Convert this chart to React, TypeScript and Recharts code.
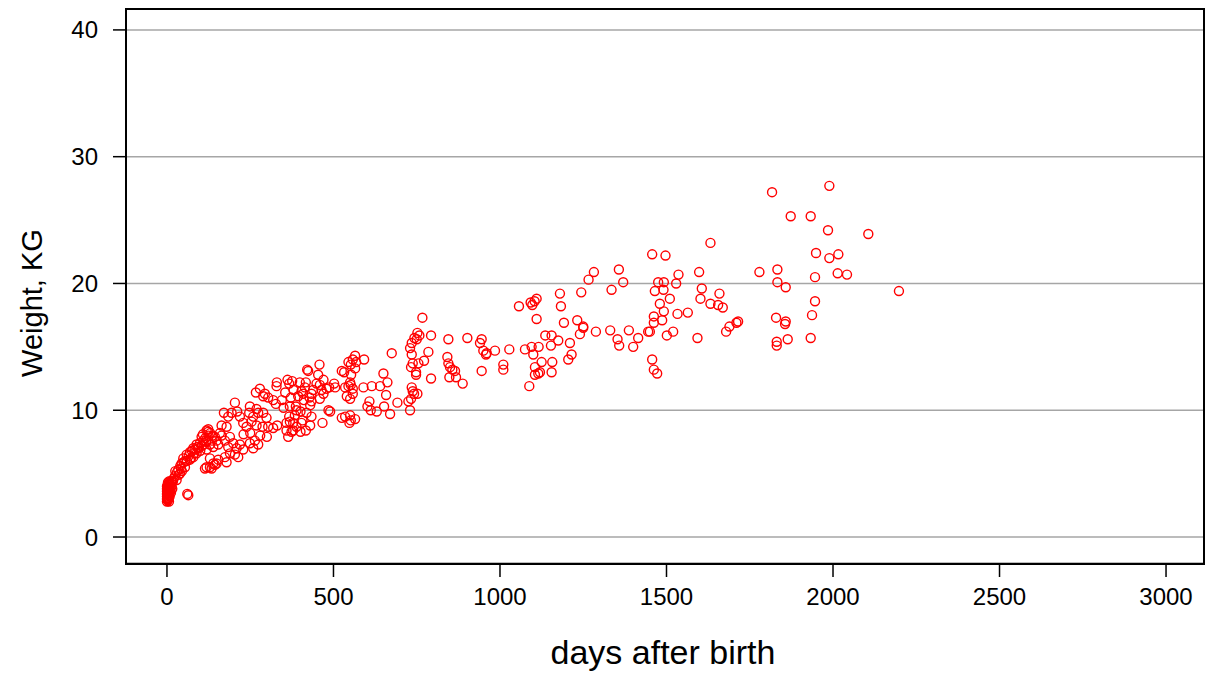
import React from 'react';
import { ScatterChart, Scatter, XAxis, YAxis, CartesianGrid } from 'recharts';

// days after birth / weight (kg) in age bands
const newbornDays = [0, 0, 0, 0, 0, 0, 0, 2, 2, 2, 2, 3, 3, 4, 4, 5, 5, 6, 7, 7, 8, 10, 12, 14, 15, 9,
  1, 1, 3, 5, 6, 8, 10, 11, 13, 16,
  24, 29, 34, 39, 44, 54, 49, 59, 69, 69, 79, 79, 89, 89, 99, 109, 61, 64, 20, 30, 40, 50, 60, 18, 45, 75, 95, 85, 105, 115,
  25, 35, 42, 55, 65, 72, 82, 92, 100, 110, 108, 118, 125, 130, 135];
const newbornKg = [2.8, 3.0, 3.2, 3.4, 3.6, 3.8, 4.0, 2.9, 3.3, 3.7, 4.1, 3.1, 3.5, 3.4, 3.9, 4.2, 3.0, 3.6, 3.3, 4.4, 3.8, 4.1, 3.5, 4.0, 4.3, 4.2,
  3.1, 3.9, 4.3, 3.7, 2.8, 3.2, 3.6, 3.9, 4.4, 3.8,
  4.8, 4.5, 5.3, 5.0, 5.8, 5.5, 6.2, 6.5, 6.7, 6.1, 7.0, 6.3, 7.3, 6.6, 7.4, 7.6, 3.4, 3.3, 4.6, 5.1, 5.6, 5.9, 6.0, 4.4, 5.2, 6.8, 7.0, 6.9, 7.2, 7.8,
  5.2, 4.9, 5.4, 6.0, 6.4, 6.2, 6.6, 7.1, 6.8, 7.3, 8.1, 7.5, 8.0, 8.2, 7.6];

const infantDays = [119, 124, 104, 117, 137, 149, 129, 154, 139, 164, 174, 189, 199, 184, 209, 219, 229, 249, 259, 274, 264,
  119, 129, 139, 149, 154, 119, 134, 174, 189, 204, 214, 179, 129, 114, 144, 124, 164, 179, 159, 144,
  204, 171, 184, 194, 211, 219, 249, 269, 247, 259, 274, 289, 299, 229, 239, 254, 269, 287, 304, 319, 331];
const infantKg = [8.4, 8.5, 7.9, 7.6, 8.0, 7.6, 7.3, 7.3, 7.1, 8.0, 7.6, 7.9, 7.4, 7.1, 7.0, 7.3, 6.9, 7.4, 7.0, 7.3, 7.6,
  6.9, 6.2, 5.8, 5.8, 6.1, 5.5, 5.4, 6.3, 6.6, 6.5, 6.3, 5.9, 5.5, 5.4, 5.7, 8.3, 8.8, 8.7, 8.2, 7.9,
  10.6, 9.8, 9.5, 9.8, 9.9, 9.5, 10.3, 10.1, 9.8, 9.5, 9.8, 9.8, 9.4, 9.0, 8.7, 9.1, 8.8, 8.7, 8.7, 8.6, 8.8];

const yearOneDays = [279, 267, 294, 289, 304, 319, 327, 329, 330, 362, 376, 367, 280, 300, 250, 230, 345, 355, 372, 380, 350,
  367, 359, 379, 389, 404, 417, 430, 434, 419, 389, 369, 421, 454, 458, 424,
  470, 479, 487, 459, 464, 449, 439, 434, 428, 434, 430, 459, 470, 414, 409, 417, 399, 404, 394, 401, 407, 401, 411, 387, 384, 379, 369, 359, 364, 374,
  467, 490, 485, 505, 502];
const yearOneKg = [11.7, 11.4, 11.3, 11.1, 11.0, 10.8, 10.5, 11.9, 12.2, 12.4, 12.3, 12.1, 8.0, 7.9, 8.2, 8.1, 10.8, 11.4, 11.0, 11.6, 10.2,
  9.5, 9.0, 8.4, 8.7, 9.0, 8.4, 8.8, 9.5, 9.8, 10.0, 10.3, 13.2, 12.8, 13.6, 13.1,
  12.4, 11.7, 11.8, 12.0, 11.6, 12.1, 11.6, 11.3, 11.0, 10.7, 10.4, 10.9, 11.3, 11.8, 11.3, 12.2, 12.2, 11.5, 11.1, 9.9, 9.2, 8.3, 10.8, 10.3, 9.6, 9.0, 9.1, 8.4, 7.9, 8.3,
  9.0, 9.9, 10.0, 11.8, 12.1];

const yearTwoDays = [592, 565, 558, 568, 552, 545, 565, 553, 550, 552, 545, 558, 558, 550, 540, 535, 525, 532, 525, 535, 550, 552, 548, 565,
  650, 662, 640, 615, 590, 658, 652, 630, 608, 602, 612, 670, 692, 675,
  767, 752, 758, 743, 750, 735, 793, 730, 735, 738, 733, 785, 772, 755, 748, 748, 793, 735, 738, 742, 752, 733, 725, 730,
  845, 902, 945, 940, 950, 958, 960, 985, 842, 845, 850, 857, 865, 888, 848, 868, 945];
const yearTwoKg = [14.0, 14.3, 14.0, 13.8, 13.6, 13.8, 13.3, 12.8, 12.2, 12.0, 11.9, 11.7, 11.3, 10.9, 11.1, 11.8, 13.1, 13.0, 9.4, 9.5, 9.6, 9.2, 9.0, 9.3,
  12.9, 12.2, 11.9, 11.9, 11.8, 11.2, 10.3, 9.9, 10.7, 10.3, 10.0, 9.7, 10.6, 14.5,
  17.3, 16.1, 15.9, 15.7, 15.6, 15.3, 15.9, 14.9, 14.4, 13.7, 13.4, 14.6, 13.9, 13.7, 13.0, 12.8, 12.5, 11.8, 11.5, 11.3, 11.3, 10.9, 10.7, 10.0,
  15.6, 15.7, 15.6, 15.3, 14.7, 14.4, 14.5, 14.7, 14.2, 13.7, 13.4, 13.2, 13.1, 12.1, 12.6, 12.6, 13.1];

const yearThreeDays = [1010, 1010, 1028, 1057, 1075, 1095, 1116, 1088, 1100, 1105, 1105, 1120, 1115, 1125, 1136, 1155, 1153, 1157, 1155, 1175,
  1110, 1104, 1092, 1097, 1110, 1180, 1183, 1192, 1210, 1215, 1205, 1232, 1250, 1250, 1240, 1244, 1266, 1282, 1288, 1331, 1335, 1357, 1353, 1358, 1370, 1387, 1400, 1415, 1445];
const yearThreeKg = [13.6, 13.2, 14.8, 18.2, 14.8, 15.0, 15.0, 11.9, 14.4, 13.4, 12.8, 13.0, 12.9, 13.8, 15.9, 15.9, 15.1, 13.8, 13.0, 15.5,
  18.8, 18.6, 18.5, 18.3, 17.2, 19.2, 18.2, 16.9, 15.3, 14.4, 14.0, 17.1, 16.6, 16.5, 16.0, 19.3, 20.3, 20.9, 16.2, 16.3, 19.5, 21.1, 15.6, 15.1, 20.1, 16.3, 15.0, 15.7, 16.2];

const yearFourDays = [1632, 1457, 1497, 1536, 1598, 1475, 1492, 1529, 1465, 1491, 1606, 1659, 1510, 1602, 1480, 1632, 1655, 1669,
  1492, 1564, 1533, 1462, 1487, 1462, 1715, 1710, 1689, 1679, 1450, 1520, 1501, 1593, 1457, 1462, 1472];
const yearFourKg = [23.2, 22.3, 22.2, 20.7, 20.9, 20.1, 20.1, 20.0, 19.4, 19.5, 19.6, 19.2, 18.8, 18.8, 18.4, 18.4, 18.3, 18.1,
  17.8, 17.7, 17.6, 17.4, 17.1, 16.9, 17.0, 16.9, 16.6, 16.2, 16.2, 16.2, 15.9, 15.7, 14.0, 13.2, 12.9];

const yearFiveDays = [1779, 1817, 1833, 1833, 1858, 1829, 1858, 1856, 1864, 1831, 1831, 1873, 1933,
  1989, 1985, 2106, 1949, 1989, 2016, 1946, 2014, 2042, 2198, 1946, 1937, 1933];
const yearFiveKg = [20.9, 27.2, 21.1, 20.1, 19.7, 17.3, 17.0, 16.8, 15.6, 15.4, 15.1, 25.3, 25.3,
  27.7, 24.2, 23.9, 22.4, 22.0, 22.3, 20.5, 20.8, 20.7, 19.4, 18.6, 17.5, 15.7];

const xTicks = [0, 500, 1000, 1500, 2000, 2500, 3000];
const yTicks = [0, 10, 20, 30, 40];

const bands: [number[], number[]][] = [
  [newbornDays, newbornKg],
  [infantDays, infantKg],
  [yearOneDays, yearOneKg],
  [yearTwoDays, yearTwoKg],
  [yearThreeDays, yearThreeKg],
  [yearFourDays, yearFourKg],
  [yearFiveDays, yearFiveKg],
];

const points = bands.flatMap(([d, w]) =>
  d.map((day, i) => ({ day, kg: w[i] })).filter((p) => p.kg !== undefined)
);

const font = '"Liberation Sans", Arial, sans-serif';

const Ring = (props: any) => {
  const { cx, cy } = props;
  if (cx == null || cy == null) return null;
  return <circle cx={cx} cy={cy} r={4.5} fill="none" stroke="#ff0000" strokeWidth={1.4} />;
};

export default function App() {
  return (
    <div style={{ position: 'absolute', left: 0, top: 0, width: 1212, height: 677, background: '#fff', fontFamily: font }}>
      <ScatterChart width={1212} height={677} margin={{ top: 9, right: 9, left: 0, bottom: 0 }}>
        <CartesianGrid vertical={false} stroke="#a6a6a6" strokeWidth={1.5} />
        <XAxis
          type="number"
          dataKey="day"
          domain={[-123, 3111]}
          ticks={xTicks}
          allowDataOverflow
          height={114}
          axisLine={false}
          tickLine={{ stroke: '#000', strokeWidth: 1.5 }}
          tickSize={14}
          tickMargin={11}
          tick={{ fill: '#000', fontSize: 24, fontFamily: font }}
        />
        <YAxis
          type="number"
          dataKey="kg"
          domain={[-2.05, 41.65]}
          ticks={yTicks}
          allowDataOverflow
          width={126}
          axisLine={false}
          tickLine={{ stroke: '#000', strokeWidth: 1.5 }}
          tickSize={13}
          tickMargin={15}
          tick={{ fill: '#000', fontSize: 24, fontFamily: font }}
        />
        <Scatter data={points} shape={<Ring />} isAnimationActive={false} />
      </ScatterChart>
      <div style={{ position: 'absolute', left: 125, top: 8, width: 1076, height: 553, border: '2px solid #000', pointerEvents: 'none' }} />
      <div style={{ position: 'absolute', left: 0, width: 1212, top: 632, textAlign: 'center', paddingLeft: 114, boxSizing: 'border-box', fontSize: 34, color: '#000', lineHeight: '40px' }}>
        days after birth
      </div>
      <div style={{ position: 'absolute', left: 32, top: 303, transform: 'translate(-50%, -50%) rotate(-90deg)', whiteSpace: 'nowrap', fontSize: 29, color: '#000', lineHeight: '36px' }}>
        Weight, KG
      </div>
    </div>
  );
}
